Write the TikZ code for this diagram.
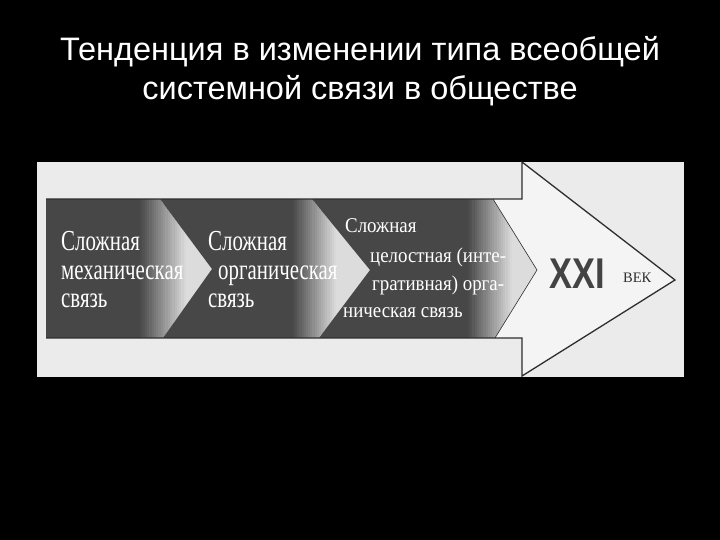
\documentclass[tikz,border=0pt]{standalone}
\usepackage{fontspec}
\setmainfont{Liberation Sans}
\newfontfamily\serifcond[FakeStretch=0.72]{Liberation Serif}
\newfontfamily\serifmid[FakeStretch=0.9]{Liberation Serif}
\newfontfamily\xxifont[FakeStretch=0.8]{Liberation Sans Bold}
\newfontfamily\plainserif{Liberation Serif}
\definecolor{scanbg}{HTML}{EBEBEB}
\definecolor{arrowbg}{HTML}{F4F4F4}
\definecolor{banddark}{HTML}{474747}
\definecolor{bandlight}{HTML}{DCDCDC}
\definecolor{inkdark}{HTML}{2E2E2E}
\newcommand{\gradband}[2]{%
  \foreach \i in {0,...,19} {%
    \pgfmathsetmacro{\pp}{5*\i+2.5}%
    \pgfmathsetmacro{\xa}{#1+(#2-#1)*\i/20}%
    \pgfmathsetmacro{\xb}{#1+(#2-#1)*(\i+1)/20+0.4}%
    \fill[bandlight!\pp!banddark] (\xa,199) rectangle (\xb,338);
  }}
\tikzset{
  titletext/.style={text=white, font=\fontsize{32.5}{32.5}\selectfont, anchor=base, inner sep=0pt},
  bigtext/.style={text=white, font=\serifcond\fontsize{29}{29}\selectfont, anchor=base west, inner sep=0pt},
  smalltext/.style={text=white, font=\serifmid\fontsize{21}{21}\selectfont, anchor=base west, inner sep=0pt},
  outline/.style={draw=inkdark, line width=1.3pt, line join=miter}
}
\begin{document}
\begin{tikzpicture}[x=1pt,y=-1pt]
\fill[black] (0,0) rectangle (720,540);
\useasboundingbox (0,0) rectangle (720,540);
% title
\node[titletext] (t1) at (360,61) {Тенденция в изменении типа всеобщей};
\node[titletext] (t2) at (360,100) {системной связи в обществе};
% scanned panel
\fill[scanbg] (37,162) rectangle (684,377);
% big arrow
\fill[arrowbg] (46,199) -- (522,199) -- (522,162) -- (675,280) -- (522,376) -- (522,338) -- (46,338) -- cycle;
% chevron A
\begin{scope}
\clip (46,199) -- (160,199) -- (212,269) -- (163,338) -- (46,338) -- cycle;
\fill[banddark] (46,199) rectangle (140,338);
\gradband{140}{186}
\fill[bandlight] (186,199) rectangle (214,338);
\node[bigtext] (a1) at (61,250) {Сложная};
\node[bigtext] (a2) at (61,279) {механическая};
\node[bigtext] (a3) at (61,307) {связь};
\end{scope}
% chevron B
\begin{scope}
\clip (160,199) -- (312,199) -- (370,270) -- (319,338) -- (163,338) -- (212,269) -- cycle;
\fill[banddark] (158,199) rectangle (293,338);
\gradband{293}{336}
\fill[bandlight] (336,199) rectangle (372,338);
\node[bigtext] (b1) at (208,250) {Сложная};
\node[bigtext] (b2) at (218,279) {органическая};
\node[bigtext] (b3) at (208,307) {связь};
\end{scope}
% chevron C
\begin{scope}
\clip (312,199) -- (493,199) -- (537,270) -- (495,338) -- (319,338) -- (370,270) -- cycle;
\fill[banddark] (310,199) rectangle (468,338);
\gradband{468}{512}
\fill[bandlight] (512,199) rectangle (539,338);
\node[smalltext] (c1) at (345,233) {Сложная};
\node[smalltext] (c2) at (370,262) {целостная (инте-};
\node[smalltext] (c3) at (372,290) {гративная) орга-};
\node[smalltext] (c4) at (343,317) {ническая связь};
\end{scope}
\draw[draw=inkdark, line width=0.6pt] (493,199) -- (537,270) -- (495,338);
% arrow outline
\draw[outline] (46,199) -- (522,199) -- (522,162) -- (675,280) -- (522,376) -- (522,338) -- (46,338);
% XXI век
\node[anchor=base west, inner sep=0pt, text=inkdark!90!white, font=\xxifont\fontsize{43}{43}\selectfont] (xxi) at (549,288) {XXI};
\node[anchor=base west, inner sep=0pt, text=inkdark, font=\plainserif\fontsize{14.5}{14.5}\selectfont] (vek) at (623,282) {ВЕК};
\end{tikzpicture}
\end{document}
